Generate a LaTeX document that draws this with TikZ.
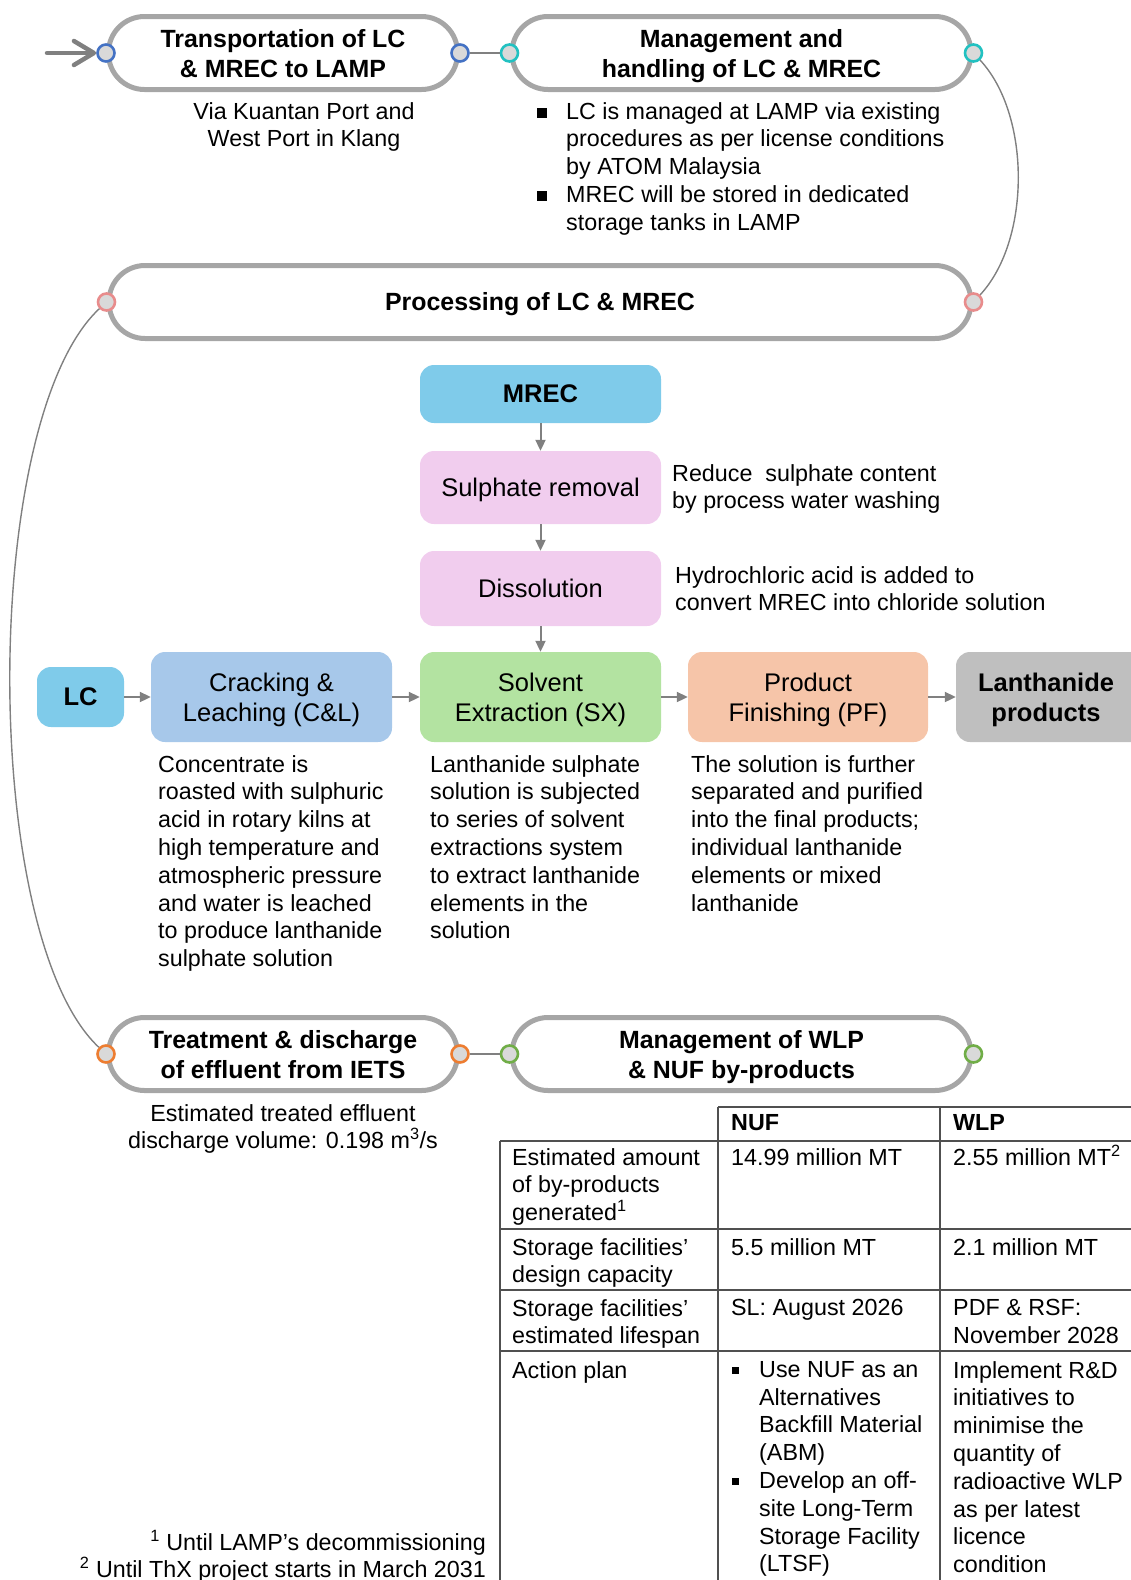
\documentclass[tikz,border=0pt]{standalone}
\usepackage{fontspec}
\setmainfont{Liberation Sans}
\usepackage{tikz}
\usetikzlibrary{arrows.meta}
\definecolor{rim}{HTML}{A6A6A6}
\definecolor{hub}{HTML}{D9D9D9}
\definecolor{wire}{HTML}{808080}
\definecolor{tabgray}{HTML}{505050}
\definecolor{pblue}{HTML}{4472C4}
\definecolor{pcyan}{HTML}{22C1C1}
\definecolor{prose}{HTML}{E88C8C}
\definecolor{porange}{HTML}{ED7D31}
\definecolor{pgreen}{HTML}{70AD47}
\definecolor{sky}{HTML}{7FCBEA}
\definecolor{steel}{HTML}{A7C8EA}
\definecolor{lilac}{HTML}{F1CDEE}
\definecolor{mint}{HTML}{B3E3A1}
\definecolor{peach}{HTML}{F6C5A9}
\definecolor{ash}{HTML}{BFBFBF}
\newcommand{\bul}{\rule[1pt]{10pt}{10pt}}
\newcommand{\sbul}{\rule[3pt]{7pt}{7pt}}
\newcommand{\notemark}[1]{\smash{\textsuperscript{#1}}}
\newcommand{\boxstrut}{\rule[-0.212em]{0pt}{1.117em}}
\newcommand{\topstrut}{\rule{0pt}{0.97em}}
\tikzset{
  pill/.style={draw=rim, line width=5pt, rounded corners=36pt, minimum height=73pt, inner sep=0pt, align=center, font=\fontsize{24.9}{29.2}\selectfont\bfseries, execute at begin node=\boxstrut, execute at end node=\boxstrut},
  port/.style={circle, fill=hub, draw=#1, line width=2.6pt, minimum size=17pt, inner sep=0pt},
  link/.style={draw=wire, line width=1.4pt},
  entry/.style={draw=wire, line width=4.5pt, line cap=round, -{Straight Barb[length=20pt,width=24pt,round]}},
  stage/.style={rounded corners=14pt, inner sep=0pt, align=center, minimum width=241pt, minimum height=90pt, font=\fontsize{25.5}{30.2}\selectfont, execute at begin node=\boxstrut, execute at end node=\boxstrut},
  stagebold/.style={stage, font=\fontsize{25.5}{30.2}\selectfont\bfseries},
  flow/.style={draw=wire, line width=2pt, -{Triangle[length=11pt,width=10pt]}},
  desc/.style={inner sep=0pt, font=\fontsize{23.3}{27.8}\selectfont},
  deschead/.style={desc, font=\fontsize{23.3}{27.8}\selectfont\bfseries},
  tabline/.style={draw=tabgray, line width=1.8pt},
}
\begin{document}
\begin{tikzpicture}[x=1pt,y=-1pt]
  \useasboundingbox (0,0) rectangle (1131,1580);
  \node[pill, minimum width=349pt] (trans) at (283,53) {\topstrut Transportation of LC\\\& MREC to LAMP};
  \node[pill, minimum width=459pt] (handle) at (741.5,53) {\topstrut Management and\\handling of LC \& MREC};
  \node[pill, minimum width=862pt] (proc) at (540,302) {Processing of LC \& MREC};
  \node[pill, minimum width=349pt] (treat) at (283,1054) {\topstrut Treatment \& discharge\\of effluent from IETS};
  \node[pill, minimum width=459pt] (byprod) at (741.5,1054) {\topstrut Management of WLP\\\& NUF by-products};
  \node[port=pblue] (transW) at (trans.west) {};
  \node[port=pblue] (transE) at (trans.east) {};
  \node[port=pcyan] (handleW) at (handle.west) {};
  \node[port=pcyan] (handleE) at (handle.east) {};
  \node[port=prose] (procW) at (proc.west) {};
  \node[port=prose] (procE) at (proc.east) {};
  \node[port=porange] (treatW) at (treat.west) {};
  \node[port=porange] (treatE) at (treat.east) {};
  \node[port=pgreen] (byprodW) at (byprod.west) {};
  \node[port=pgreen] (byprodE) at (byprod.east) {};
  \coordinate (entry) at (47,53);
  \draw[entry] (entry) -- (transW);
  \draw[link] (transE) -- (handleW);
  \draw[link] (treatE) -- (byprodW);
  \draw[link] (handleE) .. controls (1031,115) and (1031,240) .. (procE);
  \draw[link] (procW) .. controls (-20,420) and (-20,936) .. (treatW);
  \node[desc, align=center, anchor=north] (via) at (304,102) {Via Kuantan Port and\\West Port in Klang};
  \node[desc, align=left, anchor=north west] (handlenote) at (566,102) {\llap{\bul\hspace{19pt}}LC is managed at LAMP via existing\\procedures as per license conditions\\by ATOM Malaysia\\\llap{\bul\hspace{19pt}}MREC will be stored in dedicated\\storage tanks in LAMP};
  \node[stagebold, fill=sky, minimum height=58pt] (mrec) at (540.5,394) {MREC};
  \node[stage, fill=lilac, minimum height=73pt] (sulph) at (540.5,487.5) {Sulphate removal};
  \node[stage, fill=lilac, minimum height=75pt] (dissol) at (540.5,588.5) {Dissolution};
  \node[stagebold, fill=sky, minimum width=87pt, minimum height=60pt] (lc) at (80.5,697) {LC};
  \node[stage, fill=steel] (crack) at (271.5,697) {\topstrut Cracking \&\\Leaching (C\&L)};
  \node[stage, fill=mint] (sx) at (540.5,697) {\topstrut Solvent\\Extraction (SX)};
  \node[stage, fill=peach, minimum width=240pt] (pf) at (808,697) {\topstrut Product\\Finishing (PF)};
  \node[stagebold, fill=ash, minimum width=200pt] (lanth) at (1056,697) {};
  \node[stagebold, minimum width=180pt] (lanthtext) at (1046,697) {\topstrut Lanthanide\\products};
  \draw[flow] (mrec) -- (sulph);
  \draw[flow] (sulph) -- (dissol);
  \draw[flow] (dissol) -- (sx);
  \draw[flow] (lc) -- (crack);
  \draw[flow] (crack) -- (sx);
  \draw[flow] (sx) -- (pf);
  \draw[flow] (pf) -- (lanth);
  \node[desc, align=left, anchor=north west] (sulphnote) at (672,464) {Reduce~ sulphate content\\by process water washing};
  \node[desc, align=left, anchor=north west] (dissolnote) at (675,566) {Hydrochloric acid is added to\\convert MREC into chloride solution};
  \node[desc, align=left, anchor=north west] (cracknote) at (158,755) {Concentrate is\\roasted with sulphuric\\acid in rotary kilns at\\high temperature and\\atmospheric pressure\\and water is leached\\to produce lanthanide\\sulphate solution};
  \node[desc, align=left, anchor=north west] (sxnote) at (430,755) {Lanthanide sulphate\\solution is subjected\\to series of solvent\\extractions system\\to extract lanthanide\\elements in the\\solution};
  \node[desc, align=left, anchor=north west] (pfnote) at (691,755) {The solution is further\\separated and purified\\into the final products;\\individual lanthanide\\elements or mixed\\lanthanide};
  \node[desc, align=center, anchor=north] (treatnote) at (283,1104) {Estimated treated effluent\\discharge volume: 0.198 m\notemark{3}/s};
  \draw[tabline] (718,1107) -- (1131,1107);
  \draw[tabline] (500,1141) -- (1131,1141);
  \draw[tabline] (500,1229) -- (1131,1229);
  \draw[tabline] (500,1290) -- (1131,1290);
  \draw[tabline] (500,1351) -- (1131,1351);
  \draw[tabline] (500,1141) -- (500,1580);
  \draw[tabline] (718,1107) -- (718,1580);
  \draw[tabline] (940,1107) -- (940,1580);
  \node[deschead, anchor=north west] (nufhead) at (731,1114) {NUF};
  \node[deschead, anchor=north west] (wlphead) at (953,1114) {WLP};
  \node[desc, align=left, anchor=north west] (amount) at (512,1148) {Estimated amount\\of by-products\\generated\notemark{1}};
  \node[desc, anchor=north west] (nufamount) at (731,1148) {14.99 million MT};
  \node[desc, anchor=north west] (wlpamount) at (953,1148) {2.55 million MT\notemark{2}};
  \node[desc, align=left, anchor=north west] (capacity) at (512,1238) {Storage facilities'\\design capacity};
  \node[desc, anchor=north west] (nufcapacity) at (731,1238) {5.5 million MT};
  \node[desc, anchor=north west] (wlpcapacity) at (953,1238) {2.1 million MT};
  \node[desc, align=left, anchor=north west] (lifespan) at (512,1299) {Storage facilities'\\estimated lifespan};
  \node[desc, anchor=north west] (nuflifespan) at (731,1299) {SL: August 2026};
  \node[desc, align=left, anchor=north west] (wlplifespan) at (953,1299) {PDF \& RSF:\\November 2028};
  \node[desc, anchor=north west] (plan) at (512,1361) {Action plan};
  \node[desc, align=left, anchor=north west] (nufplan) at (759,1361) {\llap{\sbul\hspace{20pt}}Use NUF as an\\Alternatives\\Backfill Material\\(ABM)\\\llap{\sbul\hspace{20pt}}Develop an off-\\site Long-Term\\Storage Facility\\(LTSF)};
  \node[desc, align=left, anchor=north west] (wlpplan) at (953,1361) {Implement R\&D\\initiatives to\\minimise the\\quantity of\\radioactive WLP\\as per latest\\licence\\condition};
  \node[desc, align=right, anchor=north east] (notes) at (486,1533) {\notemark{1} Until LAMP's decommissioning\\\notemark{2} Until ThX project starts in March 2031};
\end{tikzpicture}
\end{document}
